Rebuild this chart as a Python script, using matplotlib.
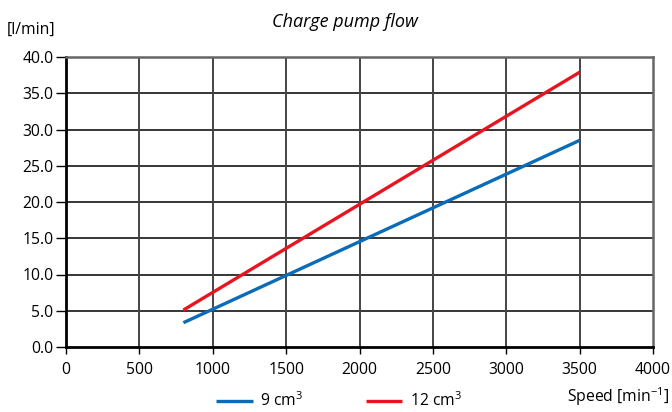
import matplotlib
matplotlib.use("Agg")
import matplotlib.pyplot as plt

plt.rcParams['font.family'] = ['Open Sans', 'DejaVu Sans']
plt.rcParams['mathtext.default'] = 'regular'

speed = [800, 3500]
flow_9 = [3.35, 28.5]
flow_12 = [5.1, 37.9]
xticks = [0, 500, 1000, 1500, 2000, 2500, 3000, 3500, 4000]
yticks = [0, 5, 10, 15, 20, 25, 30, 35, 40]

fig = plt.figure(figsize=(6.72, 4.12), dpi=100)
ax = fig.add_axes([66/672, 1-347/412, (653-66)/672, (347-57)/412])

ax.plot(speed, flow_9, color='#0a6bb8', lw=2.4, solid_capstyle='butt', label=r'9 cm$^{3}$', zorder=3)
ax.plot(speed, flow_12, color='#e8141f', lw=2.4, solid_capstyle='butt', label=r'12 cm$^{3}$', zorder=3)

ax.set_xlim(0, 4000)
ax.set_ylim(0, 40)
ax.set_xticks(xticks)
ax.set_yticks(yticks)
ax.set_xticklabels([str(v) for v in xticks])
ax.set_yticklabels([f"{v:.1f}" for v in yticks])
ax.tick_params(axis='both', labelsize=11.3, colors='black', width=1)
ax.tick_params(axis='y', length=7, pad=2)
ax.tick_params(axis='x', length=5, pad=6)

for y in yticks[1:-1]:
    ax.axhline(y, color='black', lw=1.1, zorder=1)
for x in xticks[1:-1]:
    ax.axvline(x, color='#444444', lw=1.4, zorder=1)

ax.spines['left'].set_linewidth(2)
ax.spines['bottom'].set_linewidth(2)
ax.spines['left'].set_color('black')
ax.spines['bottom'].set_color('black')
ax.spines['top'].set_color('#666666')
ax.spines['right'].set_color('#666666')
ax.spines['top'].set_linewidth(1.8)
ax.spines['right'].set_linewidth(1.8)

fig.text(345/672, 1-22/412, 'Charge pump flow', ha='center', va='center', fontsize=13, style='italic')
fig.text(7/672, 1-30/412, '[l/min]', ha='left', va='center', fontsize=11.3)
fig.text(669/672, 1-397/412, r'Speed [min$^{-1}$]', ha='right', va='center', fontsize=11.3)

fig.legend(loc='lower center', bbox_to_anchor=(0.505, -0.03), ncol=2, frameon=False,
           fontsize=11.3, handlelength=2.3, columnspacing=4.0, handletextpad=0.5)

fig.savefig('out.png', dpi=100)
